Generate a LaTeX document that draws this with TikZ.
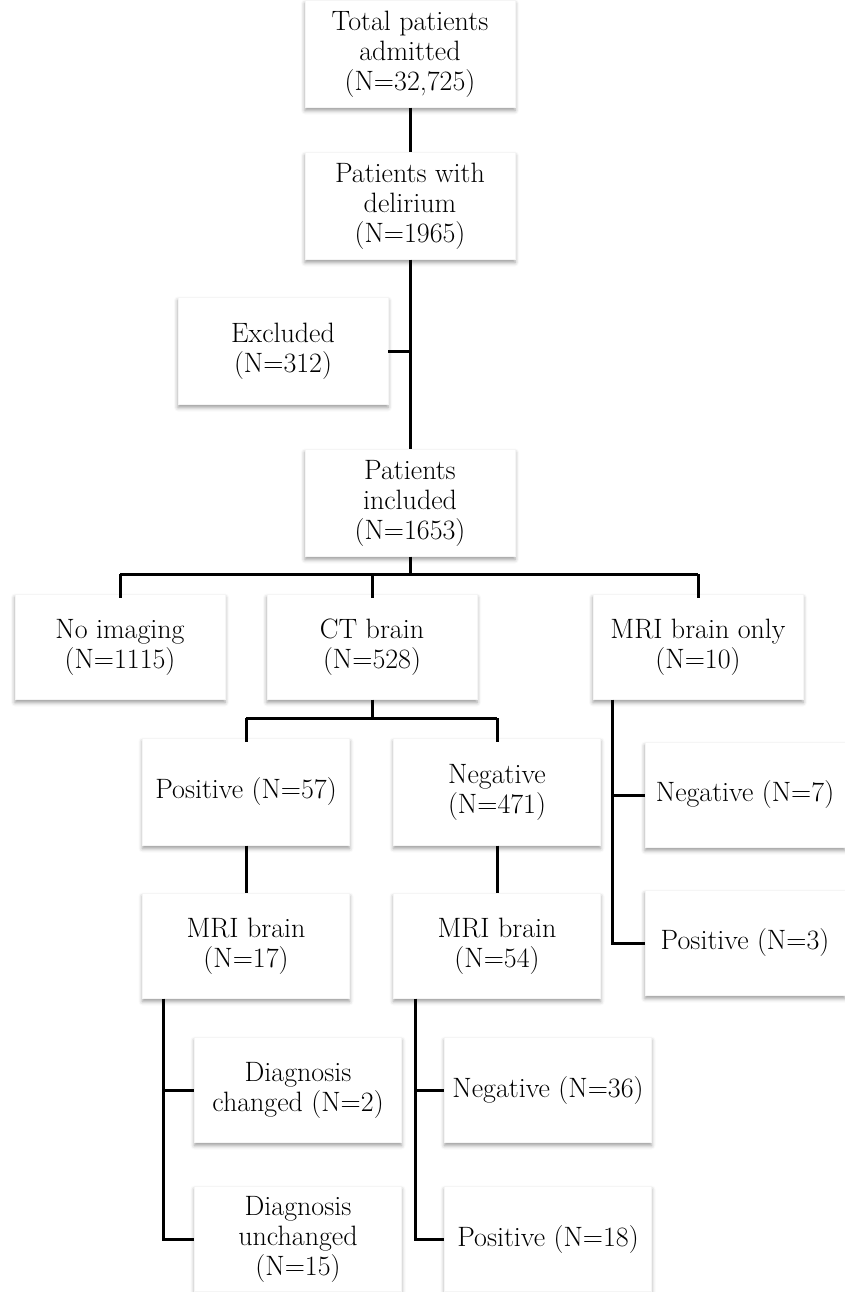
\documentclass[tikz,border=0pt]{standalone}
\usepackage{tikz}
\usetikzlibrary{shadows.blur, calc}
\tikzset{
    box/.style = {fill=white, draw=black!4, align=center, inner sep=0pt,
        minimum width=210pt, minimum height=107pt,
        font=\fontsize{28}{30}\selectfont,
        blur shadow={shadow xshift=0pt, shadow yshift=-3pt, shadow blur radius=4pt, shadow opacity=40}},
    sbox/.style = {box, minimum width=207pt},
    link/.style = {line width=3pt},
}

\begin{document}
\begin{tikzpicture}[x=1pt, y=-1pt]
\useasboundingbox (0,0) rectangle (844,1292);

% top column
\node[box] (total) at (410,54) {Total patients\\admitted\\(N=32,725)};
\node[box] (delir) at (410,206) {Patients with\\delirium\\(N=1965)};
\node[box] (excl) at (283,351) {Excluded\\(N=312)};
\node[box] (incl) at (410,503) {Patients\\included\\(N=1653)};
\draw[link] (total) -- (delir);
\draw[link] (delir) -- (incl);
\draw[link] (excl.east) -- (excl.east -| delir.south);

% imaging
\node[box, minimum height=105pt] (noim) at (120,647) {No imaging\\(N=1115)};
\node[box, minimum height=105pt] (ct) at (372,647) {CT brain\\(N=528)};
\node[box, minimum height=105pt] (mrio) at (698,647) {MRI brain only\\(N=10)};
\coordinate (J1) at (410,574);
\draw[link] (incl) -- (J1);
\draw[link] (noim.north |- J1) -- (mrio.north |- J1);
\draw[link] (noim.north |- J1) -- ([yshift=-4pt]noim.north);
\draw[link] (ct.north |- J1) -- ([yshift=-4pt]ct.north);
\draw[link] (mrio.north |- J1) -- ([yshift=-4pt]mrio.north);

% CT brain
\node[sbox] (pos) at (246,792) {Positive (N=57)};
\node[sbox] (neg) at (497,792) {Negative\\(N=471)};
\coordinate (J2) at (372,718);
\draw[link] (ct) -- (J2);
\draw[link] (pos.north |- J2) -- (neg.north |- J2);
\draw[link] (pos.north |- J2) -- ([yshift=-4pt]pos.north);
\draw[link] (neg.north |- J2) -- ([yshift=-4pt]neg.north);

\node[sbox, minimum height=105pt] (mri17) at (246,946) {MRI brain\\(N=17)};
\node[sbox, minimum height=105pt] (mri54) at (497,946) {MRI brain\\(N=54)};
\draw[link] (pos) -- (mri17);
\draw[link] (neg) -- (mri54);

% MRI brain only
\node[box, minimum width=200pt, minimum height=105pt] (neg7) at (745,795) {Negative (N=7)};
\node[box, minimum width=200pt, minimum height=105pt] (pos3) at (745,943) {Positive (N=3)};
\coordinate (mb) at ($(mrio.south west)+(20,0)$);
\draw[link] (mb) |- (pos3.west);
\draw[link] (mb |- neg7.west) -- (neg7.west);

% MRI after positive CT
\node[sbox, minimum height=105pt] (dchg) at (298,1090) {Diagnosis\\changed (N=2)};
\node[sbox, minimum height=105pt] (dunch) at (298,1239) {Diagnosis\\unchanged\\(N=15)};
\coordinate (b17) at ($(mri17.south west)+(21,0)$);
\draw[link] (b17) |- (dunch.west);
\draw[link] (b17 |- dchg.west) -- (dchg.west);

% MRI after negative CT
\node[sbox, minimum height=105pt] (neg36) at (548,1090) {Negative (N=36)};
\node[sbox, minimum height=105pt] (pos18) at (548,1239) {Positive (N=18)};
\coordinate (b54) at ($(mri54.south west)+(22,0)$);
\draw[link] (b54) |- (pos18.west);
\draw[link] (b54 |- neg36.west) -- (neg36.west);
\end{tikzpicture}
\end{document}
